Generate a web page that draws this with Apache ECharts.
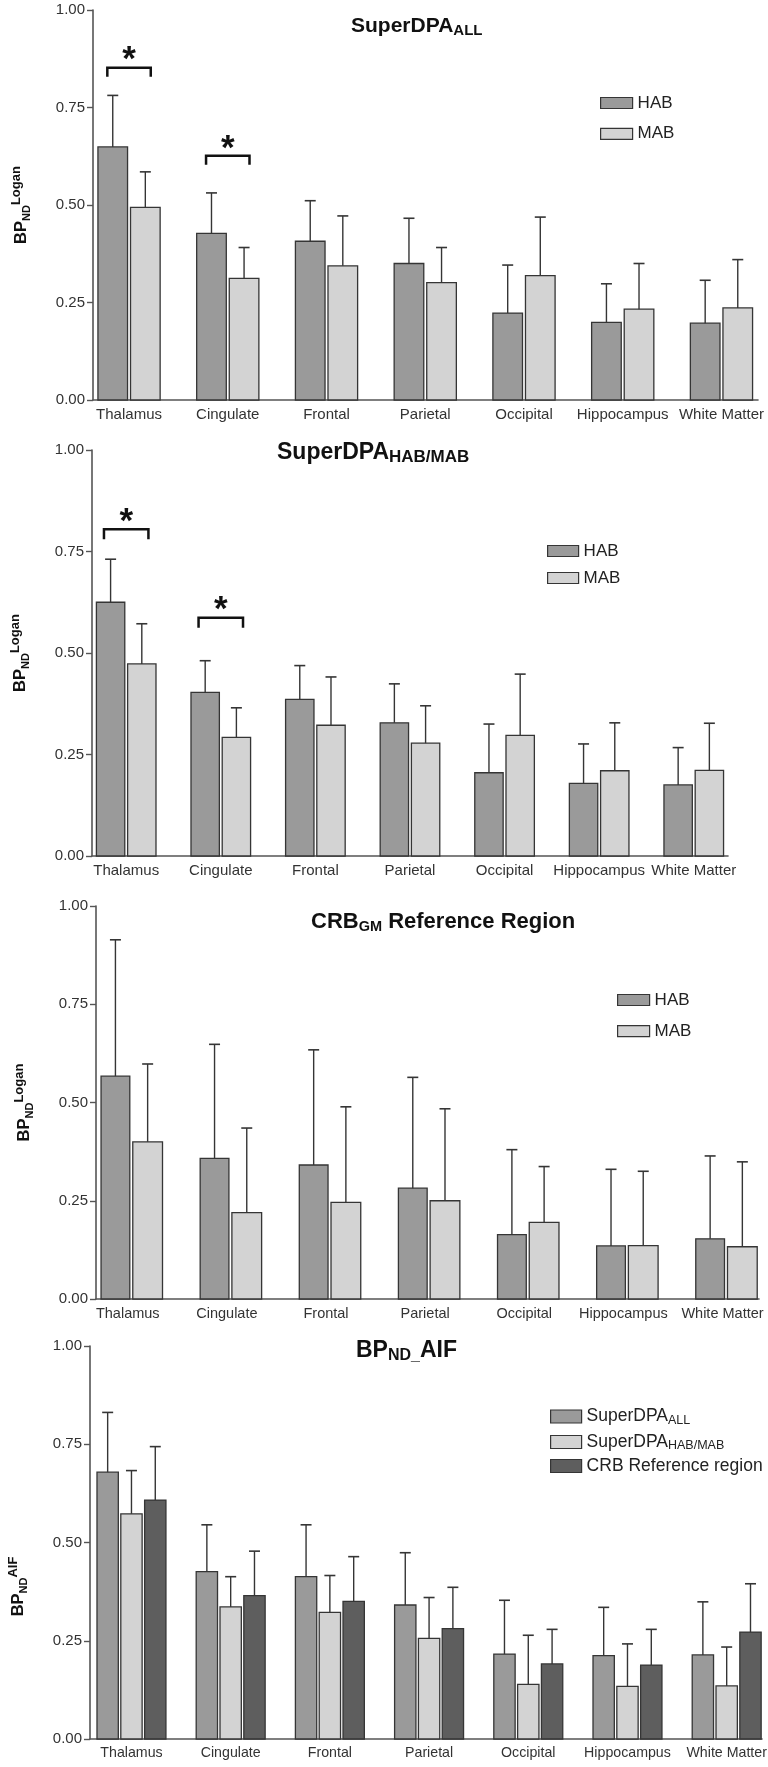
<!DOCTYPE html>
<html>
<head>
<meta charset="utf-8">
<script src="https://cdn.jsdelivr.net/npm/echarts@6/dist/echarts.min.js"></script>
<style>
html,body{margin:0;padding:0;background:#fff;}
#chart{width:768px;height:1767px;}
</style>
</head>
<body>
<div id="chart"></div>
<script>
// ---------- DATA ----------
var categories = ['Thalamus', 'Cingulate', 'Frontal', 'Parietal', 'Occipital', 'Hippocampus', 'White Matter'];
var yTicks = [0, 0.25, 0.5, 0.75, 1.0];

// Panel 1: SuperDPA_ALL (mean, SD)
var p1HAB   = [0.649, 0.427, 0.407, 0.350, 0.223, 0.199, 0.197];
var p1HABsd = [0.132, 0.104, 0.104, 0.116, 0.123, 0.099, 0.110];
var p1MAB   = [0.494, 0.312, 0.344, 0.301, 0.319, 0.233, 0.236];
var p1MABsd = [0.091, 0.079, 0.128, 0.090, 0.150, 0.117, 0.124];
var p1Sig   = [[0, 0.852], [1, 0.626]];   // [category index, bracket height]

// Panel 2: SuperDPA_HAB/MAB
var p2HAB   = [0.625, 0.403, 0.386, 0.328, 0.205, 0.179, 0.175];
var p2HABsd = [0.106, 0.078, 0.083, 0.096, 0.120, 0.097, 0.092];
var p2MAB   = [0.473, 0.292, 0.322, 0.278, 0.297, 0.210, 0.211];
var p2MABsd = [0.099, 0.073, 0.119, 0.092, 0.151, 0.118, 0.116];
var p2Sig   = [[0, 0.805], [1, 0.587]];

// Panel 3: CRB_GM reference region
var p3HAB   = [0.567, 0.358, 0.341, 0.282, 0.164, 0.135, 0.153];
var p3HABsd = [0.347, 0.290, 0.293, 0.282, 0.216, 0.195, 0.211];
var p3MAB   = [0.400, 0.220, 0.246, 0.250, 0.195, 0.136, 0.133];
var p3MABsd = [0.198, 0.215, 0.243, 0.234, 0.142, 0.189, 0.216];

// Panel 4: BP_ND AIF
var p4All     = [0.679, 0.426, 0.413, 0.341, 0.216, 0.212, 0.214];
var p4AllSd   = [0.152, 0.119, 0.132, 0.133, 0.137, 0.123, 0.135];
var p4HabMab  = [0.573, 0.336, 0.322, 0.256, 0.139, 0.134, 0.135];
var p4HabMabSd= [0.110, 0.077, 0.094, 0.104, 0.125, 0.108, 0.099];
var p4CRB     = [0.608, 0.365, 0.350, 0.281, 0.191, 0.188, 0.272];
var p4CRBSd   = [0.136, 0.113, 0.114, 0.105, 0.088, 0.091, 0.123];

// ---------- STYLE ----------
var FONT = 'Liberation Sans, Arial, Helvetica, sans-serif';
var C_HAB = '#9a9a9a', C_MAB = '#d3d3d3', C_CRB = '#5e5e5e';
var C_EDGE = '#353535', C_AXIS = '#555555', C_TXT = '#222222';

function rows(means, sds) {
  return means.map(function (m, i) { return [i, m, m + sds[i]]; });
}

function barRender(off0, off1, fill, capHalf) {
  return function (params, api) {
    var c = api.value(0), v = api.value(1), e = api.value(2);
    var pTop = api.coord([c + off0, v]);
    var pBot = api.coord([c + off1, 0]);
    var pErr = api.coord([c + (off0 + off1) / 2, e]);
    return {
      type: 'group',
      children: [
        { type: 'rect', shape: { x: pTop[0], y: pTop[1], width: pBot[0] - pTop[0], height: pBot[1] - pTop[1] },
          style: { fill: fill, stroke: C_EDGE, lineWidth: 1.3 } },
        { type: 'line', shape: { x1: pErr[0], y1: pTop[1], x2: pErr[0], y2: pErr[1] },
          style: { stroke: C_EDGE, lineWidth: 1.4 } },
        { type: 'line', shape: { x1: pErr[0] - capHalf, y1: pErr[1], x2: pErr[0] + capHalf, y2: pErr[1] },
          style: { stroke: C_EDGE, lineWidth: 1.6 } }
      ]
    };
  };
}

function sigRender(halfW, leg) {
  return function (params, api) {
    var c = api.value(0), h = api.value(1);
    var pl = api.coord([c - halfW, h]);
    var pr = api.coord([c + halfW, h]);
    return {
      type: 'group',
      children: [
        { type: 'polyline', shape: { points: [[pl[0], pl[1] + leg], [pl[0], pl[1]], [pr[0], pr[1]], [pr[0], pr[1] + leg]] },
          style: { stroke: '#111', lineWidth: 2.5, fill: null } },
        { type: 'text', x: (pl[0] + pr[0]) / 2, y: pl[1] - 7,
          style: { text: '*', fill: '#111', font: 'bold 35px ' + FONT, align: 'center', verticalAlign: 'middle' } }
      ]
    };
  };
}

var grids = [
  { left: 93, right: 10, top: 10, height: 390, xmin: -0.365, xmax: 6.37, lblSize: 15, lblPad: 0 },
  { left: 92, right: 40, top: 450, height: 406, xmin: -0.3615, xmax: 6.362, lblSize: 15, lblPad: 0 },
  { left: 96, right: 9, top: 906, height: 393, xmin: -0.361, xmax: 6.328, lblSize: 14.5, lblPad: 8 },
  { left: 90, right: 6, top: 1346, height: 393, xmin: -0.418, xmax: 6.356, lblSize: 14.2, lblPad: 0 }
];

function yRich() {
  return {
    m: { fontSize: 16.5, fontWeight: 'bold', fontFamily: FONT, color: '#111', lineHeight: 22 },
    s: { fontSize: 11, fontWeight: 'bold', fontFamily: FONT, color: '#111', lineHeight: 11, padding: [11, 0, 0, 0] },
    p: { fontSize: 13, fontWeight: 'bold', fontFamily: FONT, color: '#111', lineHeight: 13, padding: [0, 0, 9, 0] }
  };
}

var legendText = { fontSize: 17, fontFamily: FONT, color: C_TXT, lineHeight: 18 };

var option = {
  backgroundColor: '#ffffff',
  animation: false,
  title: [
    { text: '{n|SuperDPA}{s|ALL}', left: 351, top: 15, padding: 0,
      textStyle: { rich: {
        n: { fontSize: 21, fontWeight: 'bold', fontFamily: FONT, color: '#111', lineHeight: 23 },
        s: { fontSize: 15, fontWeight: 'bold', fontFamily: FONT, color: '#111', lineHeight: 15, padding: [9, 0, 0, 0] } } } },
    { text: '{n|SuperDPA}{s|HAB/MAB}', left: 277, top: 440, padding: 0,
      textStyle: { rich: {
        n: { fontSize: 23, fontWeight: 'bold', fontFamily: FONT, color: '#111', lineHeight: 25 },
        s: { fontSize: 17, fontWeight: 'bold', fontFamily: FONT, color: '#111', lineHeight: 16, padding: [10, 0, 0, 0] } } } },
    { text: '{n|CRB}{s|GM}{n| Reference Region}', left: 311, top: 910, padding: 0,
      textStyle: { rich: {
        n: { fontSize: 22, fontWeight: 'bold', fontFamily: FONT, color: '#111', lineHeight: 24 },
        s: { fontSize: 14.5, fontWeight: 'bold', fontFamily: FONT, color: '#111', lineHeight: 14, padding: [10, 0, 0, 0] } } } },
    { text: '{n|BP}{s|ND_}{n|AIF}', left: 356, top: 1338, padding: 0,
      textStyle: { rich: {
        n: { fontSize: 23, fontWeight: 'bold', fontFamily: FONT, color: '#111', lineHeight: 25 },
        s: { fontSize: 16, fontWeight: 'bold', fontFamily: FONT, color: '#111', lineHeight: 15, padding: [10, 0, 0, 0] } } } }
  ],
  legend: [
    { orient: 'vertical', left: 600, top: 94, itemGap: 12.8, itemWidth: 32, itemHeight: 11, padding: 0,
      icon: 'rect', selectedMode: false, textStyle: legendText,
      data: [ { name: 'HAB', itemStyle: { color: C_HAB, borderColor: C_EDGE, borderWidth: 1.2 } },
              { name: 'MAB', itemStyle: { color: C_MAB, borderColor: C_EDGE, borderWidth: 1.2 } } ] },
    { orient: 'vertical', left: 547, top: 542, itemGap: 9, itemWidth: 31, itemHeight: 11, padding: 0,
      icon: 'rect', selectedMode: false, textStyle: legendText,
      data: [ { name: 'HAB', itemStyle: { color: C_HAB, borderColor: C_EDGE, borderWidth: 1.2 } },
              { name: 'MAB', itemStyle: { color: C_MAB, borderColor: C_EDGE, borderWidth: 1.2 } } ] },
    { orient: 'vertical', left: 617, top: 991, itemGap: 13.1, itemWidth: 32, itemHeight: 11, padding: 0,
      icon: 'rect', selectedMode: false, textStyle: legendText,
      data: [ { name: 'HAB', itemStyle: { color: C_HAB, borderColor: C_EDGE, borderWidth: 1.2 } },
              { name: 'MAB', itemStyle: { color: C_MAB, borderColor: C_EDGE, borderWidth: 1.2 } } ] },
    { orient: 'vertical', left: 550, top: 1406, itemGap: 4.5, itemWidth: 31, itemHeight: 13, padding: 0,
      icon: 'rect', selectedMode: false,
      formatter: function (name) {
        if (name === 'SuperDPA_ALL') return '{n|SuperDPA}{s|ALL}';
        if (name === 'SuperDPA_HAB/MAB') return '{n|SuperDPA}{s|HAB/MAB}';
        return '{n|' + name + '}';
      },
      textStyle: { fontSize: 17, fontFamily: FONT, color: C_TXT, rich: {
        n: { fontSize: 17.5, fontFamily: FONT, color: C_TXT, lineHeight: 20 },
        s: { fontSize: 12.5, fontFamily: FONT, color: C_TXT, lineHeight: 12, padding: [8, 0, 0, 0] } } },
      data: [ { name: 'SuperDPA_ALL', itemStyle: { color: C_HAB, borderColor: C_EDGE, borderWidth: 1.2 } },
              { name: 'SuperDPA_HAB/MAB', itemStyle: { color: C_MAB, borderColor: C_EDGE, borderWidth: 1.2 } },
              { name: 'CRB Reference region', itemStyle: { color: C_CRB, borderColor: C_EDGE, borderWidth: 1.2 } } ] }
  ],
  grid: grids.map(function (g) {
    return { left: g.left, right: g.right, top: g.top, height: g.height, outerBoundsMode: 'none', containLabel: false };
  }),
  xAxis: grids.map(function (g, i) {
    return {
      gridIndex: i, type: 'value', min: g.xmin, max: g.xmax,
      axisLine: { show: true, onZero: false, lineStyle: { color: C_AXIS, width: 1.6 } },
      axisTick: { show: false }, splitLine: { show: false },
      axisLabel: { customValues: [0, 1, 2, 3, 4, 5, 6], formatter: function (v) { return categories[Math.round(v)]; },
        fontSize: g.lblSize, fontFamily: FONT, color: '#333', margin: 7, padding: [0, g.lblPad, 0, 0] }
    };
  }),
  yAxis: grids.map(function (g, i) {
    return {
      gridIndex: i, type: 'value', min: 0, max: 1, interval: 0.25,
      axisLine: { show: true, onZero: false, lineStyle: { color: C_AXIS, width: 1.6 } },
      axisTick: { show: true, length: 6, lineStyle: { color: C_AXIS, width: 1.4 } },
      splitLine: { show: false },
      axisLabel: { formatter: function (v) { return v.toFixed(2); }, fontSize: 15, fontFamily: FONT, color: '#333', margin: 8 },
      name: i === 3 ? '{m|BP}{s|ND}{p|AIF}' : '{m|BP}{s|ND}{p|Logan}',
      nameLocation: 'middle', nameRotate: 90, nameGap: 61,
      nameTextStyle: { rich: yRich(), padding: i === 3 ? [0, 88, 0, 0] : [0, 0, 0, 0] }
    };
  }),
  series: [
    { type: 'custom', name: 'HAB', xAxisIndex: 0, yAxisIndex: 0, data: rows(p1HAB, p1HABsd), itemStyle: { color: C_HAB },
      encode: { x: 0, y: [1, 2] }, renderItem: barRender(-0.315, -0.015, C_HAB, 5.5) },
    { type: 'custom', name: 'MAB', xAxisIndex: 0, yAxisIndex: 0, data: rows(p1MAB, p1MABsd), itemStyle: { color: C_MAB },
      encode: { x: 0, y: [1, 2] }, renderItem: barRender(0.015, 0.315, C_MAB, 5.5) },
    { type: 'custom', name: 'sig1', xAxisIndex: 0, yAxisIndex: 0, data: p1Sig,
      encode: { x: 0, y: 1 }, renderItem: sigRender(0.22, 9) },

    { type: 'custom', name: 'HAB', xAxisIndex: 1, yAxisIndex: 1, data: rows(p2HAB, p2HABsd), itemStyle: { color: C_HAB },
      encode: { x: 0, y: [1, 2] }, renderItem: barRender(-0.315, -0.015, C_HAB, 5.5) },
    { type: 'custom', name: 'MAB', xAxisIndex: 1, yAxisIndex: 1, data: rows(p2MAB, p2MABsd), itemStyle: { color: C_MAB },
      encode: { x: 0, y: [1, 2] }, renderItem: barRender(0.015, 0.315, C_MAB, 5.5) },
    { type: 'custom', name: 'sig2', xAxisIndex: 1, yAxisIndex: 1, data: p2Sig,
      encode: { x: 0, y: 1 }, renderItem: sigRender(0.235, 10) },

    { type: 'custom', name: 'HAB', xAxisIndex: 2, yAxisIndex: 2, data: rows(p3HAB, p3HABsd), itemStyle: { color: C_HAB },
      encode: { x: 0, y: [1, 2] }, renderItem: barRender(-0.31, -0.02, C_HAB, 5.5) },
    { type: 'custom', name: 'MAB', xAxisIndex: 2, yAxisIndex: 2, data: rows(p3MAB, p3MABsd), itemStyle: { color: C_MAB },
      encode: { x: 0, y: [1, 2] }, renderItem: barRender(0.01, 0.31, C_MAB, 5.5) },

    { type: 'custom', name: 'SuperDPA_ALL', xAxisIndex: 3, yAxisIndex: 3, data: rows(p4All, p4AllSd), itemStyle: { color: C_HAB },
      encode: { x: 0, y: [1, 2] }, renderItem: barRender(-0.3475, -0.1325, C_HAB, 5.5) },
    { type: 'custom', name: 'SuperDPA_HAB/MAB', xAxisIndex: 3, yAxisIndex: 3, data: rows(p4HabMab, p4HabMabSd), itemStyle: { color: C_MAB },
      encode: { x: 0, y: [1, 2] }, renderItem: barRender(-0.1075, 0.1075, C_MAB, 5.5) },
    { type: 'custom', name: 'CRB Reference region', xAxisIndex: 3, yAxisIndex: 3, data: rows(p4CRB, p4CRBSd), itemStyle: { color: C_CRB },
      encode: { x: 0, y: [1, 2] }, renderItem: barRender(0.1325, 0.3475, C_CRB, 5.5) }
  ]
};

var chart = echarts.init(document.getElementById('chart'), null, { renderer: 'canvas', width: 768, height: 1767 });
chart.setOption(option);
</script>
</body>
</html>
